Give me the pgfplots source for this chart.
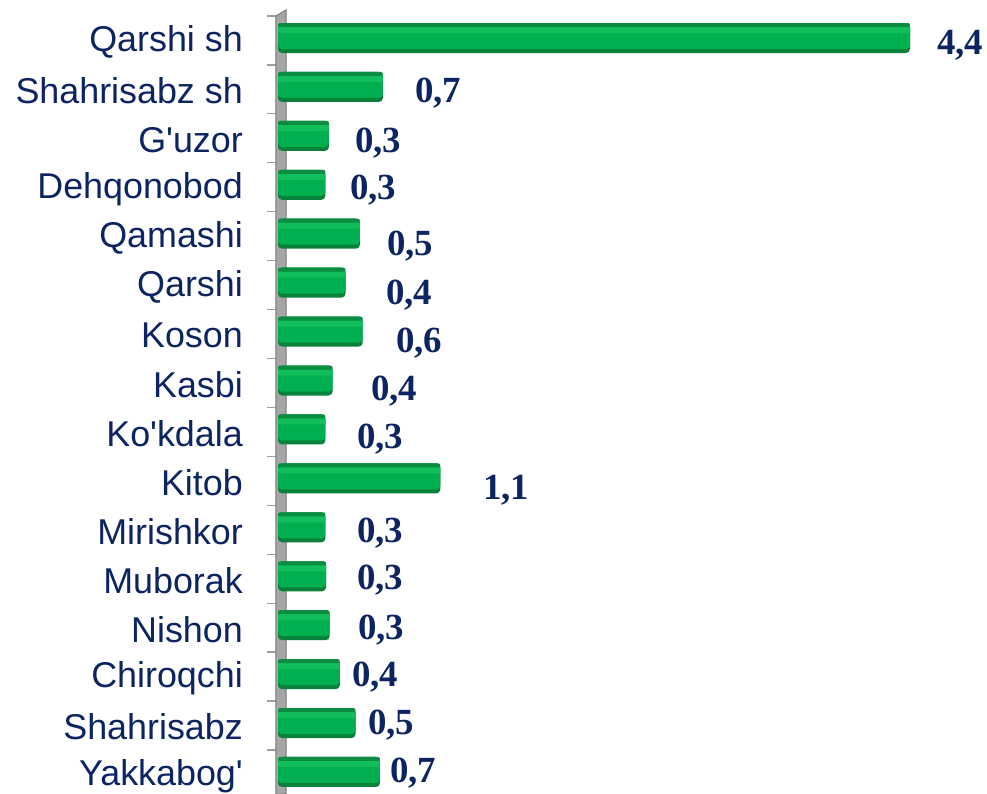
\documentclass[border=0pt]{standalone}
\usepackage{pgfplots}
\pgfplotsset{compat=1.18}
\usepackage{pgfplotstable}
\usepackage{fontspec}
\setmainfont{Liberation Sans}
\newfontfamily\valfont{Liberation Serif}
\definecolor{navy}{RGB}{12,36,97}
\definecolor{gmain}{RGB}{0,176,80}
\definecolor{glight}{RGB}{18,190,92}
\definecolor{gdark}{RGB}{8,130,58}
\definecolor{gtop}{RGB}{12,140,64}
\definecolor{wallfill}{RGB}{166,166,166}
\definecolor{walledge}{RGB}{120,120,120}

\pgfplotstableread{
idx val lx ly lab
0 4.40 4.588 0.143 4,4
1 0.73 0.954 1.124 0,7
2 0.355 0.536 2.146 0,3
3 0.33 0.501 3.106 0,3
4 0.57 0.759 4.251 0,5
5 0.47 0.752 5.252 0,4
6 0.59 0.821 6.233 0,6
7 0.38 0.647 7.214 0,4
8 0.33 0.550 8.195 0,3
9 1.13 1.427 9.238 1,1
10 0.33 0.550 10.116 0,3
11 0.335 0.550 11.077 0,3
12 0.36 0.557 12.099 0,3
13 0.43 0.515 13.060 0,4
14 0.54 0.627 14.040 0,5
15 0.71 0.780 15.020 0,7
}\data

\begin{document}
\begin{tikzpicture}[x=1bp,y=1bp]
\begin{axis}[
  at={(278bp,0bp)}, anchor=south west,
  scale only axis, width=703.8bp, height=782.9bp,
  xmin=0, xmax=4.9, ymin=-0.55, ymax=15.45,
  y dir=reverse, clip=false,
  axis line style={draw=none},
  xtick=\empty, ytick pos=left,
  ytick={0,...,15},
  yticklabels={Qarshi sh, Shahrisabz sh, G\textquotesingle uzor, Dehqonobod, Qamashi, Qarshi\ , Koson, Kasbi, Ko\textquotesingle kdala, Kitob, Mirishkor, Muborak, Nishon, Chiroqchi, Shahrisabz, Yakkabog\textquotesingle},
  major tick length=0pt,
  yticklabel style={font=\fontsize{36}{40}\selectfont, text=navy, inner sep=0pt, anchor=east, xshift=-35bp, yshift=-4bp},
  extra y ticks={-0.45,0.55,...,14.55},
  extra y tick labels={},
  extra y tick style={major tick length=11bp, tick align=outside, tick style={draw=gray!75, line width=1.3bp}},
]
\fill[wallfill, draw=walledge, line width=1bp] (axis cs:-0.014,15.45) -- (axis cs:-0.014,-0.45) -- (axis cs:0.056,-0.572) -- (axis cs:0.056,15.45) -- cycle;
% 3D-look bars built from layered flat bars
\addplot[xbar, bar width=30bp, bar shift=0bp, fill=gdark, draw=none, rounded corners=4bp] table[x=val, y=idx]{\data};
\addplot[xbar, bar width=26bp, bar shift=2bp, fill=gmain, draw=none, rounded corners=4bp] table[x=val, y=idx]{\data};
\addplot[xbar, bar width=6bp, bar shift=8bp, fill=glight, draw=none, rounded corners=2bp] table[x=val, y=idx]{\data};
\addplot[xbar, bar width=4bp, bar shift=13bp, fill=gtop, draw=none, rounded corners=2bp] table[x=val, y=idx]{\data};
\addplot[draw=none, mark=none, point meta=explicit symbolic, nodes near coords, nodes near coords align=horizontal,
  every node near coord/.append style={anchor=west, inner sep=0pt, font=\valfont\bfseries\fontsize{37}{40}\selectfont, text=navy}] table[x=lx, y=ly, meta=lab]{\data};
\end{axis}
\pgfresetboundingbox
\useasboundingbox (0,0) rectangle (987,794);
\end{tikzpicture}
\end{document}
